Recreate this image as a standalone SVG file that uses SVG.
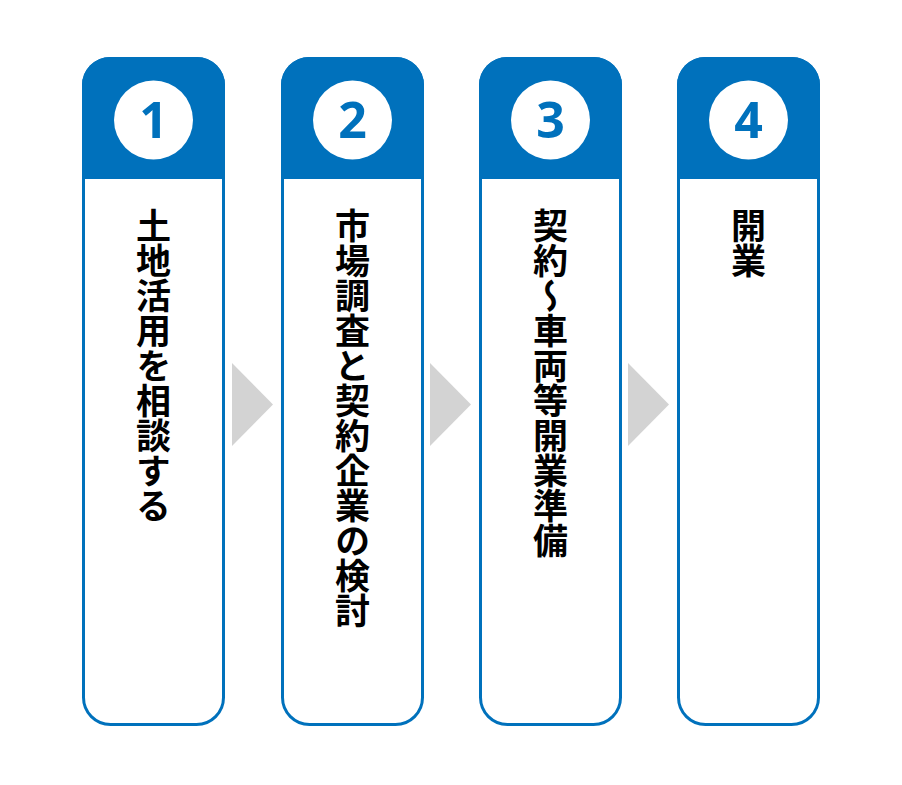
<svg xmlns="http://www.w3.org/2000/svg" width="902" height="785" viewBox="0 0 902 785">
<defs>
<style>
.card{fill:#ffffff;stroke:#0071bc;stroke-width:3}
.head{fill:#0071bc}
.badge{fill:#ffffff}
.num{font-family:"Open Sans","Liberation Sans",sans-serif;font-weight:700;font-size:50px;fill:#0071bc;text-anchor:middle}
.lbl{font-family:"Noto Sans CJK JP","Noto Sans",sans-serif;font-weight:700;font-size:35px;fill:#000000;writing-mode:vertical-rl;text-anchor:start}
.arrow{fill:#d3d3d3}
</style>
</defs>
<rect width="902" height="785" fill="#ffffff"/>
<g id="step1" transform="translate(82,0)">
<rect class="card" x="1.5" y="58.5" width="140" height="666" rx="27"/>
<path class="head" d="M0,179 V85 A28,28 0 0 1 28,57 H115 A28,28 0 0 1 143,85 V179 Z"/>
<circle class="badge" cx="71.5" cy="120" r="39.5"/>
<text class="num" x="71.5" y="138">1</text>
<text class="lbl" x="71.5" y="208">土地活用を相談する</text>
</g>
<g id="step2" transform="translate(281,0)">
<rect class="card" x="1.5" y="58.5" width="140" height="666" rx="27"/>
<path class="head" d="M0,179 V85 A28,28 0 0 1 28,57 H115 A28,28 0 0 1 143,85 V179 Z"/>
<circle class="badge" cx="71.5" cy="120" r="39.5"/>
<text class="num" x="71.5" y="138">2</text>
<text class="lbl" x="71.5" y="208">市場調査と契約企業の検討</text>
</g>
<g id="step3" transform="translate(479,0)">
<rect class="card" x="1.5" y="58.5" width="140" height="666" rx="27"/>
<path class="head" d="M0,179 V85 A28,28 0 0 1 28,57 H115 A28,28 0 0 1 143,85 V179 Z"/>
<circle class="badge" cx="71.5" cy="120" r="39.5"/>
<text class="num" x="71.5" y="138">3</text>
<text class="lbl" x="71.5" y="208">契約～車両等開業準備</text>
</g>
<g id="step4" transform="translate(677,0)">
<rect class="card" x="1.5" y="58.5" width="140" height="666" rx="27"/>
<path class="head" d="M0,179 V85 A28,28 0 0 1 28,57 H115 A28,28 0 0 1 143,85 V179 Z"/>
<circle class="badge" cx="71.5" cy="120" r="39.5"/>
<text class="num" x="71.5" y="138">4</text>
<text class="lbl" x="71.5" y="208">開業</text>
</g>
<g id="connectors">
<polygon class="arrow" points="232,363 273,404.5 232,446"/>
<polygon class="arrow" points="430,363 471,404.5 430,446"/>
<polygon class="arrow" points="628,363 669,404.5 628,446"/>
</g>
</svg>
